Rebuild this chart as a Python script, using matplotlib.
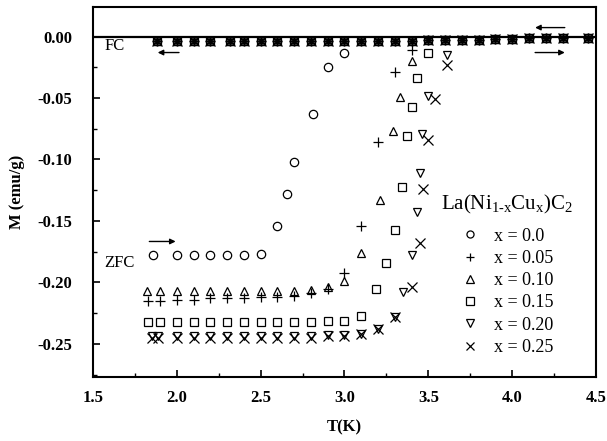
import matplotlib
matplotlib.use("Agg")
import matplotlib.pyplot as plt
from matplotlib.ticker import MultipleLocator, FormatStrFormatter

plt.rcParams['font.family'] = 'Liberation Serif'
plt.rcParams['mathtext.fontset'] = 'custom'
plt.rcParams['mathtext.rm'] = 'Liberation Serif'
plt.rcParams['mathtext.it'] = 'Liberation Serif'
plt.rcParams['axes.unicode_minus'] = False

# ── Field-cooled branch (all samples sit on ~0) ─────────────
fc_T = [1.88, 2.0, 2.1, 2.2, 2.32, 2.4, 2.5, 2.6, 2.7, 2.8, 2.9, 3.0, 3.1, 3.2,
        3.3, 3.4, 3.5, 3.6, 3.7, 3.8, 3.9, 4.0, 4.1, 4.2, 4.3, 4.45]
fc_M = [-0.004, -0.004, -0.004, -0.004, -0.004, -0.004, -0.004, -0.004, -0.004,
        -0.004, -0.004, -0.004, -0.004, -0.004, -0.004, -0.004, -0.003, -0.003,
        -0.003, -0.003, -0.002, -0.002, -0.001, -0.001, -0.001, -0.001]

# ── Zero-field-cooled branch ────────────────────────────────
T_00 = [1.86, 2.0, 2.1, 2.2, 2.3, 2.4, 2.5, 2.6, 2.66, 2.7, 2.81, 2.9, 3.0]
M_00 = [-0.178, -0.178, -0.178, -0.178, -0.178, -0.178, -0.177, -0.154, -0.128,
        -0.102, -0.063, -0.025, -0.013]

T_05 = [1.83, 1.9, 2.0, 2.1, 2.2, 2.3, 2.4, 2.5, 2.6, 2.7, 2.8, 2.9, 3.0, 3.1,
        3.2, 3.3, 3.4]
M_05 = [-0.215, -0.215, -0.214, -0.214, -0.213, -0.213, -0.213, -0.212, -0.212,
        -0.211, -0.209, -0.205, -0.192, -0.154, -0.086, -0.029, -0.011]

T_10 = [1.82, 1.9, 2.0, 2.1, 2.2, 2.3, 2.4, 2.5, 2.6, 2.7, 2.8, 2.9, 3.0, 3.1,
        3.21, 3.29, 3.33, 3.4]
M_10 = [-0.207, -0.207, -0.207, -0.207, -0.207, -0.207, -0.207, -0.207, -0.207,
        -0.207, -0.206, -0.204, -0.199, -0.176, -0.133, -0.077, -0.049, -0.020]

T_15 = [1.83, 1.9, 2.0, 2.1, 2.2, 2.3, 2.4, 2.5, 2.6, 2.7, 2.8, 2.9, 3.0, 3.1,
        3.19, 3.25, 3.3, 3.34, 3.37, 3.4, 3.43, 3.5]
M_15 = [-0.232, -0.232, -0.232, -0.232, -0.232, -0.232, -0.232, -0.232, -0.232,
        -0.232, -0.232, -0.231, -0.231, -0.227, -0.205, -0.184, -0.157, -0.122,
        -0.081, -0.057, -0.034, -0.013]

T_20 = [1.85, 1.89, 2.0, 2.1, 2.2, 2.3, 2.4, 2.5, 2.6, 2.7, 2.8, 2.9, 3.0, 3.1,
        3.2, 3.3, 3.35, 3.4, 3.43, 3.45, 3.46, 3.5, 3.61]
M_20 = [-0.244, -0.244, -0.244, -0.244, -0.244, -0.244, -0.244, -0.244, -0.244,
        -0.244, -0.244, -0.243, -0.243, -0.242, -0.238, -0.228, -0.208, -0.178,
        -0.143, -0.111, -0.079, -0.048, -0.015]

T_25 = [1.85, 1.89, 2.0, 2.1, 2.2, 2.3, 2.4, 2.5, 2.6, 2.7, 2.8, 2.9, 3.0, 3.1,
        3.2, 3.3, 3.4, 3.45, 3.47, 3.5, 3.54, 3.61]
M_25 = [-0.245, -0.245, -0.245, -0.245, -0.245, -0.245, -0.245, -0.245, -0.245,
        -0.245, -0.245, -0.244, -0.244, -0.242, -0.238, -0.228, -0.204, -0.168,
        -0.124, -0.084, -0.051, -0.023]

series = [
    ("x = 0.0", 'o', T_00, M_00),
    ("x = 0.05", '+', T_05, M_05),
    ("x = 0.10", '^', T_10, M_10),
    ("x = 0.15", 's', T_15, M_15),
    ("x = 0.20", 'v', T_20, M_20),
    ("x = 0.25", 'x', T_25, M_25),
]

fig = plt.figure(figsize=(6.07, 4.41), dpi=100)
ax = fig.add_axes([0.153, 0.145, 0.829, 0.839])

for label, mk, T, M in series:
    size = 7.5 if mk in ('+', 'x') else 6
    kw = dict(marker=mk, linestyle='none', markersize=size, color='black',
              markerfacecolor='none', markeredgewidth=0.9)
    ax.plot(T, M, label=label, **kw)
    ax.plot(fc_T, fc_M, **kw)

ax.axhline(0, color='black', linewidth=1.6, zorder=0)

# FC / ZFC annotations
arrow = dict(arrowstyle='-|>', color='black', lw=1.0, mutation_scale=8)
ax.text(1.57, -0.0075, "FC", fontsize=12, va='center', ha='left')
ax.annotate('', xy=(1.87, -0.013), xytext=(2.03, -0.013), arrowprops=arrow)
ax.text(1.57, -0.184, "ZFC", fontsize=12, va='center', ha='left')
ax.annotate('', xy=(2.01, -0.1667), xytext=(1.82, -0.1667), arrowprops=arrow)
ax.annotate('', xy=(4.12, 0.0073), xytext=(4.33, 0.0073), arrowprops=arrow)
ax.annotate('', xy=(4.33, -0.013), xytext=(4.12, -0.013), arrowprops=arrow)

ax.set_xlim(1.5, 4.5)
ax.set_ylim(-0.277, 0.024)
ax.xaxis.set_major_locator(MultipleLocator(0.5))
ax.xaxis.set_minor_locator(MultipleLocator(0.25))
ax.yaxis.set_major_locator(MultipleLocator(0.05))
ax.yaxis.set_minor_locator(MultipleLocator(0.025))
ax.xaxis.set_major_formatter(FormatStrFormatter('%.1f'))
ax.yaxis.set_major_formatter(FormatStrFormatter('%.2f'))
ax.tick_params(which='both', direction='in', top=False, right=False)
ax.tick_params(which='major', length=5, width=1.2, labelsize=12)
ax.tick_params(axis='x', which='major', pad=9)
ax.tick_params(axis='y', which='major', pad=15)
ax.tick_params(which='minor', length=3, width=1.0)
for lab in ax.get_xticklabels() + ax.get_yticklabels():
    lab.set_fontweight('bold')
for sp in ax.spines.values():
    sp.set_linewidth(1.5)

ax.set_xlabel("T(K)", fontsize=12, fontweight='bold', labelpad=10)
ax.set_ylabel("M (emu/g)", fontsize=12, fontweight='bold', labelpad=9)

# legend title drawn as text, entries as a frameless legend
ax.text(0.692, 0.454, r'La(Ni$_{\mathrm{1\text{-}x}}$Cu$_{\mathrm{x}}$)C$_{2}$',
        transform=ax.transAxes, fontsize=15, ha='left', va='baseline')
leg = ax.legend(loc='upper left', bbox_to_anchor=(0.707, 0.423), frameon=False,
                fontsize=13, handlelength=1.6, handletextpad=0.53,
                labelspacing=0.29, markerscale=0.85, borderaxespad=0)

fig.savefig("out.png", dpi=100)
